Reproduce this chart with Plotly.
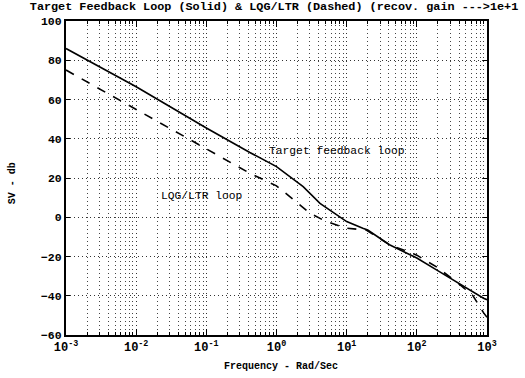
import plotly.graph_objects as go

# log10 of frequency (rad/sec) and singular values (dB)
solid_logw = [-3, -2, -1, -0.38, 0, 0.38, 0.62, 1.0, 1.23, 1.3, 1.61, 2.0, 2.28, 2.59, 2.95, 3.0]
solid_db = [86, 66.5, 45.5, 33, 25.8, 15.6, 7.1, -2.2, -5.6, -6.5, -14, -20.8, -26.8, -33.6, -41.3, -42]
dashed_logw = [-3, -2, -1, -0.38, 0, 0.48, 0.71, 1.0, 1.28, 1.61, 2.0, 2.28, 2.59, 2.8, 2.95, 3.0]
dashed_db = [75, 55, 35, 22.4, 16, 2, -2.2, -5.6, -6.5, -14, -19.3, -25.3, -33.6, -40, -48.6, -51]
y_ticks = [-60, -40, -20, 0, 20, 40, 60, 80, 100]
x_tick_exps = [-3, -2, -1, 0, 1, 2, 3]
x_tick_labels = ["10<sup>%d</sup>" % e for e in x_tick_exps]

solid_w = [10 ** v for v in solid_logw]
dashed_w = [10 ** v for v in dashed_logw]

MONO = "Liberation Mono, Courier New, monospace"

fig = go.Figure()
fig.add_trace(go.Scatter(x=solid_w, y=solid_db, mode="lines",
                         line=dict(color="black", width=1.6), showlegend=False))
fig.add_trace(go.Scatter(x=dashed_w, y=dashed_db, mode="lines",
                         line=dict(color="black", width=1.6, dash="dash"), showlegend=False))

grid = dict(showgrid=True, gridcolor="#333", gridwidth=1, griddash="1px,3px")
fig.update_xaxes(type="log", range=[-3, 3],
                 tickvals=[10 ** e for e in x_tick_exps], ticktext=x_tick_labels,
                 showline=True, linecolor="black", linewidth=2, mirror="ticks",
                 ticks="inside", ticklen=6, tickcolor="black",
                 minor=dict(dtick="D1", ticks="inside", ticklen=3, tickcolor="black",
                            showgrid=True, gridcolor="#444", griddash="1px,3px", gridwidth=1),
                 tickfont=dict(family=MONO, size=12, color="black", weight="bold"),
                 zeroline=False, **grid)
fig.update_yaxes(range=[-60, 100], tickvals=y_ticks,
                 showline=True, linecolor="black", linewidth=2, mirror="ticks",
                 ticks="inside", ticklen=4, tickcolor="black",
                 tickfont=dict(family=MONO, size=11.5, color="black", weight="bold"),
                 zeroline=False, **grid)

fig.update_layout(
    width=525, height=378,
    margin=dict(l=66, r=38, t=21, b=43, autoexpand=False),
    paper_bgcolor="white", plot_bgcolor="white",
    title=dict(text="Target Feedback Loop (Solid) & LQG/LTR (Dashed) (recov. gain --->1e+1",
               x=0.522, xanchor="center", y=0.984, yanchor="middle",
               font=dict(family=MONO, size=11.8, color="black", weight="bold")),
    annotations=[
        dict(text="Target feedback loop", xref="paper", yref="paper", x=0.477, y=0.586,
             xanchor="left", yanchor="middle", showarrow=False,
             font=dict(family=MONO, size=11.3, color="black")),
        dict(text="LQG/LTR loop", xref="paper", yref="paper", x=0.221, y=0.443,
             xanchor="left", yanchor="middle", showarrow=False,
             font=dict(family=MONO, size=11.3, color="black")),
        dict(text="SV - db", xref="paper", yref="paper", x=-0.128, y=0.484,
             xanchor="center", yanchor="middle", showarrow=False, textangle=-90,
             font=dict(family=MONO, size=10, color="black", weight="bold")),
        dict(text="Frequency - Rad/Sec", xref="paper", yref="paper", x=0.51, y=-0.099,
             xanchor="center", yanchor="middle", showarrow=False,
             font=dict(family=MONO, size=10, color="black", weight="bold")),
    ],
)

fig.write_html("out.html")
